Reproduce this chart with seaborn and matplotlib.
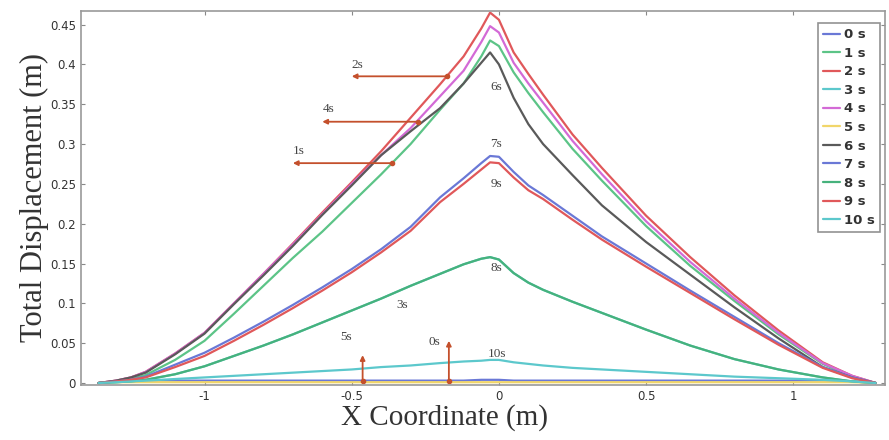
import pandas as pd
import numpy as np
import matplotlib.pyplot as plt
import seaborn as sns

x_coord = [-1.36, -1.3, -1.25, -1.2, -1.1, -1.0, -0.9, -0.8, -0.7, -0.6, -0.5, -0.4, -0.3, -0.2, -0.12,
           -0.06, -0.03, 0.0, 0.05, 0.1, 0.15, 0.25, 0.35, 0.5, 0.65, 0.8, 0.95, 1.1, 1.2, 1.28]

# total displacement (m) per time step
disp_0s = [0, 0.002, 0.003, 0.003, 0.003, 0.003, 0.003, 0.003, 0.003, 0.003, 0.003, 0.003, 0.003, 0.003, 0.003,
           0.004, 0.004, 0.004, 0.003, 0.003, 0.003, 0.003, 0.003, 0.003, 0.003, 0.003, 0.003, 0.003, 0.002, 0]
disp_1s = [0, 0.002, 0.005, 0.010, 0.029, 0.053, 0.087, 0.122, 0.157, 0.190, 0.226, 0.262, 0.300, 0.343, 0.376,
           0.410, 0.430, 0.423, 0.390, 0.364, 0.340, 0.294, 0.254, 0.197, 0.147, 0.103, 0.061, 0.024, 0.008, 0]
disp_2s = [0, 0.003, 0.007, 0.014, 0.037, 0.063, 0.100, 0.137, 0.175, 0.214, 0.252, 0.291, 0.333, 0.375, 0.410,
           0.445, 0.465, 0.456, 0.415, 0.388, 0.362, 0.312, 0.270, 0.210, 0.158, 0.110, 0.066, 0.026, 0.009, 0]
disp_3s = [0, 0.001, 0.002, 0.004, 0.011, 0.021, 0.034, 0.047, 0.061, 0.076, 0.091, 0.106, 0.122, 0.137, 0.149,
           0.156, 0.158, 0.155, 0.138, 0.126, 0.117, 0.102, 0.088, 0.067, 0.047, 0.030, 0.017, 0.007, 0.002, 0]
disp_4s = [0, 0.003, 0.007, 0.014, 0.037, 0.063, 0.100, 0.137, 0.174, 0.212, 0.250, 0.286, 0.320, 0.360, 0.392,
           0.428, 0.448, 0.440, 0.402, 0.376, 0.352, 0.304, 0.262, 0.203, 0.152, 0.106, 0.063, 0.025, 0.009, 0]
disp_5s = [0, 0.001, 0.001, 0.001, 0.001, 0.001, 0.001, 0.001, 0.001, 0.001, 0.001, 0.001, 0.001, 0.001, 0.001,
           0.001, 0.001, 0.001, 0.001, 0.001, 0.001, 0.001, 0.001, 0.001, 0.001, 0.001, 0.001, 0.001, 0.001, 0]
disp_6s = [0, 0.003, 0.007, 0.013, 0.036, 0.062, 0.099, 0.135, 0.172, 0.211, 0.248, 0.286, 0.316, 0.345, 0.376,
           0.402, 0.415, 0.400, 0.358, 0.325, 0.300, 0.261, 0.223, 0.177, 0.136, 0.095, 0.056, 0.020, 0.007, 0]
disp_7s = [0, 0.002, 0.004, 0.008, 0.023, 0.038, 0.057, 0.077, 0.098, 0.120, 0.143, 0.168, 0.196, 0.233, 0.257,
           0.276, 0.285, 0.284, 0.265, 0.248, 0.236, 0.210, 0.184, 0.150, 0.116, 0.083, 0.050, 0.020, 0.007, 0]
disp_8s = [0, 0.001, 0.002, 0.004, 0.011, 0.021, 0.034, 0.047, 0.061, 0.076, 0.091, 0.106, 0.122, 0.137, 0.149,
           0.156, 0.158, 0.155, 0.138, 0.126, 0.117, 0.102, 0.088, 0.067, 0.047, 0.030, 0.017, 0.007, 0.002, 0]
disp_9s = [0, 0.002, 0.004, 0.007, 0.020, 0.034, 0.053, 0.073, 0.094, 0.116, 0.139, 0.164, 0.191, 0.227, 0.250,
           0.268, 0.277, 0.276, 0.258, 0.242, 0.231, 0.205, 0.180, 0.146, 0.113, 0.080, 0.048, 0.019, 0.006, 0]
disp_10s = [0, 0.001, 0.002, 0.003, 0.005, 0.007, 0.009, 0.011, 0.013, 0.015, 0.017, 0.020, 0.022, 0.025, 0.027,
            0.028, 0.029, 0.029, 0.026, 0.024, 0.022, 0.019, 0.017, 0.014, 0.011, 0.008, 0.006, 0.004, 0.002, 0]

labels = ['0 s', '1 s', '2 s', '3 s', '4 s', '5 s', '6 s', '7 s', '8 s', '9 s', '10 s']
series = [disp_0s, disp_1s, disp_2s, disp_3s, disp_4s, disp_5s, disp_6s, disp_7s, disp_8s, disp_9s, disp_10s]
colors = ['#6a78d6', '#5cc487', '#e0585a', '#5cc8cc', '#d36ad6', '#f1d66a', '#5a5a5a',
          '#6a78d6', '#46b27c', '#e0585a', '#5cc8cc']

# annotations: arrows (label, text pos, tail, head) in data units
arrow_notes = [('2s', (-0.50, 0.392), (-0.177, 0.385), (-0.50, 0.385)),
               ('4s', (-0.60, 0.336), (-0.276, 0.328), (-0.60, 0.328)),
               ('1s', (-0.70, 0.284), (-0.364, 0.276), (-0.70, 0.276))]
up_notes = [('5s', (-0.54, 0.050), (-0.463, 0.002), (-0.463, 0.035)),
            ('0s', (-0.24, 0.044), (-0.170, 0.002), (-0.170, 0.053))]
plain_notes = [('6s', (-0.01, 0.372)), ('7s', (-0.01, 0.300)), ('9s', (-0.01, 0.250)),
               ('8s', (-0.01, 0.145)), ('3s', (-0.33, 0.098)), ('10s', (-0.005, 0.036))]

df = pd.DataFrame({
    'x': x_coord * len(series),
    'disp': [v for s in series for v in s],
    'time': [lab for lab in labels for _ in x_coord],
})

sns.set_style('ticks')
fig = plt.figure(figsize=(8.89, 4.40), dpi=100)
ax = fig.add_axes([0.091, 0.125, 0.904, 0.85])

sns.lineplot(data=df, x='x', y='disp', hue='time', hue_order=labels,
             palette=dict(zip(labels, colors)), estimator=None, sort=False,
             linewidth=1.6, ax=ax)

note_color = '#c4502c'
for txt, tpos, tail, head in arrow_notes + up_notes:
    ax.annotate('', xy=head, xytext=tail,
                arrowprops=dict(arrowstyle='-|>', color=note_color, lw=1.3,
                                mutation_scale=7, shrinkA=0, shrinkB=0))
    ax.plot(*tail, 'o', color=note_color, markersize=3)
    ax.text(*tpos, txt, family='Liberation Serif', fontsize=9.5, color='#444444',
            ha='left', va='bottom')
for txt, tpos in plain_notes:
    ax.text(*tpos, txt, family='Liberation Serif', fontsize=9.5, color='#444444',
            ha='center', va='center')

ax.set_xlim(-1.42, 1.31)
ax.set_ylim(-0.0025, 0.467)
ax.set_xticks([-1, -0.5, 0, 0.5, 1])
ax.set_xticklabels(['-1', '-0.5', '0', '0.5', '1'])
ax.set_yticks([0, 0.05, 0.1, 0.15, 0.2, 0.25, 0.3, 0.35, 0.4, 0.45])
ax.set_yticklabels(['0', '0.05', '0.1', '0.15', '0.2', '0.25', '0.3', '0.35', '0.4', '0.45'])
ax.tick_params(direction='in', length=3, top=True, right=True, colors='#888888',
               labelcolor='#333333', labelsize=8.5)
for sp in ax.spines.values():
    sp.set_color('#999999')
    sp.set_linewidth(1.2)

ax.set_xlabel('X Coordinate (m)', family='Liberation Serif', fontsize=21, color='#333333')
ax.xaxis.set_label_coords(0.453, -0.05)
ax.set_ylabel('Total Displacement (m)', family='Liberation Serif', fontsize=22, color='#333333', labelpad=1)

leg = ax.legend(loc='upper right', fontsize=9.5, handlelength=1.3, handletextpad=0.3,
                labelspacing=0.42, borderpad=0.4, frameon=True, fancybox=False,
                borderaxespad=0.2, bbox_to_anchor=(0.998, 0.975))
leg.get_frame().set_edgecolor('#777777')
leg.get_frame().set_linewidth(1.2)
for t in leg.get_texts():
    t.set_fontweight('bold')
    t.set_color('#333333')

fig.savefig('out.png', dpi=100)
